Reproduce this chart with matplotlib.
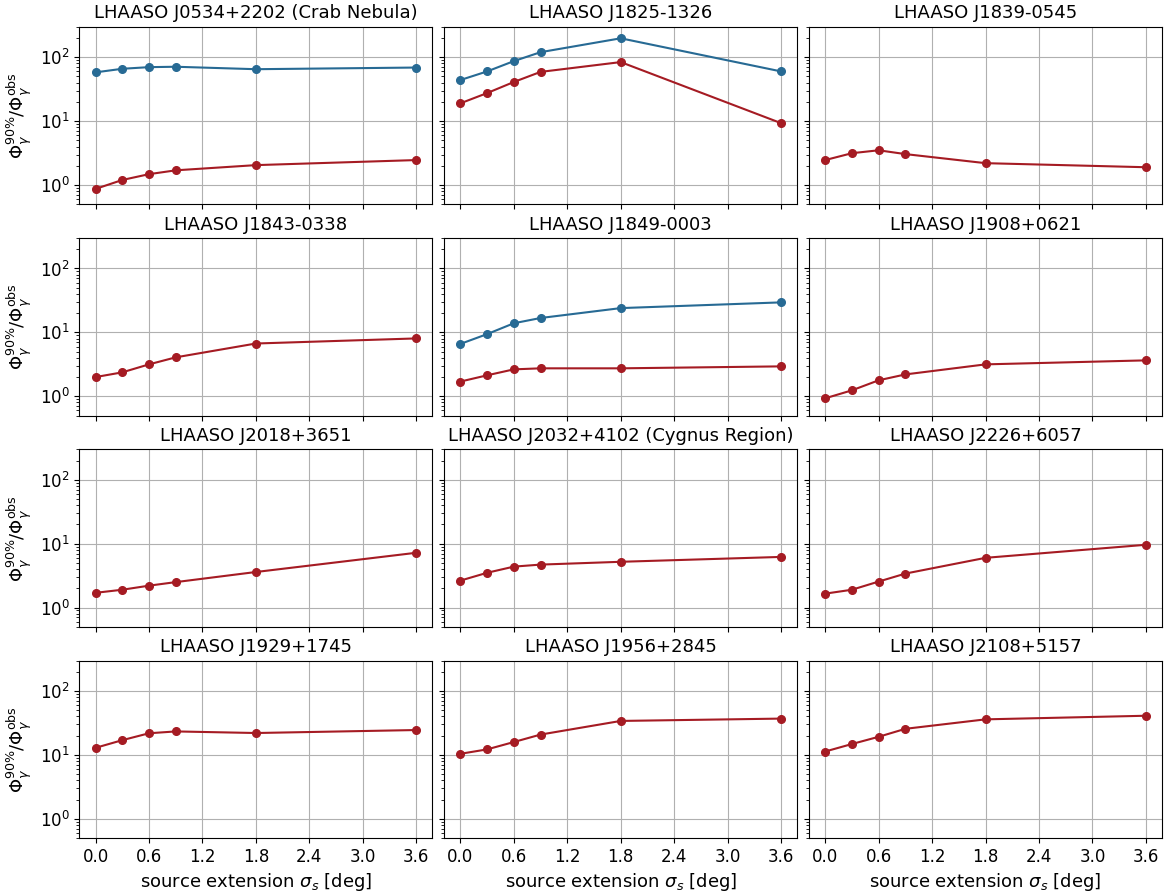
import matplotlib
matplotlib.use("Agg")
import matplotlib.pyplot as plt
import numpy as np

# source extension values (deg)
sigma_s = [0.0, 0.3, 0.6, 0.9, 1.8, 3.6]

titles = [
    "LHAASO J0534+2202 (Crab Nebula)",
    "LHAASO J1825-1326",
    "LHAASO J1839-0545",
    "LHAASO J1843-0338",
    "LHAASO J1849-0003",
    "LHAASO J1908+0621",
    "LHAASO J2018+3651",
    "LHAASO J2032+4102 (Cygnus Region)",
    "LHAASO J2226+6057",
    "LHAASO J1929+1745",
    "LHAASO J1956+2845",
    "LHAASO J2108+5157",
]

# red series (one per panel)
red_vals = [
    [0.87, 1.2, 1.48, 1.7, 2.05, 2.46],
    [19.0, 27.5, 41.0, 59.0, 84.0, 9.3],
    [2.46, 3.15, 3.5, 3.05, 2.2, 1.9],
    [2.0, 2.37, 3.16, 4.07, 6.7, 8.05],
    [1.7, 2.13, 2.64, 2.74, 2.74, 2.94],
    [0.93, 1.24, 1.78, 2.2, 3.16, 3.65],
    [1.7, 1.9, 2.2, 2.5, 3.6, 7.2],
    [2.64, 3.5, 4.37, 4.7, 5.2, 6.2],
    [1.65, 1.9, 2.55, 3.4, 6.0, 9.6],
    [12.9, 17.0, 21.8, 23.3, 22.0, 24.5],
    [10.4, 12.2, 15.9, 20.8, 34.0, 37.0],
    [11.3, 14.8, 19.2, 25.6, 36.0, 41.0],
]

# blue series (only some panels)
blue_vals = {
    0: [58.0, 66.0, 70.0, 71.0, 65.0, 69.0],
    1: [44.0, 60.0, 87.0, 120.0, 198.0, 60.0],
    4: [6.6, 9.4, 13.9, 16.8, 24.0, 29.5],
}

red = "#a51b23"
blue = "#276a94"

fig, axes = plt.subplots(4, 3, figsize=(11.69, 8.92), sharex=True, sharey=True)
fig.subplots_adjust(left=0.068, right=0.994, top=0.970, bottom=0.0605,
                    wspace=0.034, hspace=0.19)

for i, ax in enumerate(axes.flat):
    if i in blue_vals:
        ax.plot(sigma_s, blue_vals[i], "o-", color=blue, markersize=5.5,
                linewidth=1.5)
    ax.plot(sigma_s, red_vals[i], "o-", color=red, markersize=5.5,
            linewidth=1.5)
    ax.set_yscale("log")
    ax.set_title(titles[i], fontsize=13)
    ax.grid(True, color="#b0b0b0", linewidth=0.8)
    ax.tick_params(labelsize=12)

axes[0, 0].set_ylim(0.5, 300)
axes[0, 0].set_xticks([0.0, 0.6, 1.2, 1.8, 2.4, 3.0, 3.6])

for ax in axes[:, 0]:
    ax.set_ylabel(r"$\Phi_\gamma^{90\%}/\Phi_\gamma^{\rm obs}$", fontsize=13)
for ax in axes[-1, :]:
    ax.set_xlabel(r"source extension $\sigma_s$ [deg]", fontsize=13)

fig.savefig("out.png", dpi=100)
